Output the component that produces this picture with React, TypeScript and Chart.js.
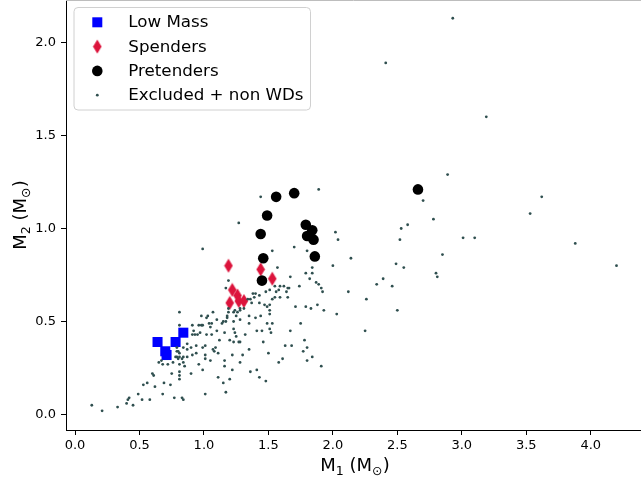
import React, { useEffect, useRef } from 'react';
import { Chart, registerables } from 'chart.js';

Chart.register(...registerables);

// ---------- data ----------
const xTicks = [0, 0.5, 1, 1.5, 2, 2.5, 3, 3.5, 4];
const yTicks = [0, 0.5, 1, 1.5, 2];

const legendLabels = ['Low Mass', 'Spenders', 'Pretenders', 'Excluded + non WDs'];

const lowMassX = [0.64, 0.78, 0.84, 0.70, 0.71];
const lowMassY = [0.39, 0.39, 0.44, 0.34, 0.32];

const spendersX = [1.19, 1.44, 1.53, 1.22, 1.26, 1.20, 1.27, 1.31];
const spendersY = [0.80, 0.78, 0.73, 0.67, 0.64, 0.60, 0.61, 0.61];

const pretendersX = [1.56, 1.70, 1.49, 1.44, 1.79, 1.84, 1.80, 1.85, 1.86, 1.46, 1.45, 2.66];
const pretendersY = [1.17, 1.19, 1.07, 0.97, 1.02, 0.99, 0.96, 0.94, 0.85, 0.84, 0.72, 1.21];

const excludedX = [
  1.89, 1.44, 1.27, 0.99, 2.02, 2.04, 1.53, 1.70, 1.80, 2.14,
  2.00, 1.84, 1.57, 1.79, 1.84, 1.82, 1.67, 1.74, 1.87, 1.89,
  1.91, 1.92, 2.12, 1.55, 1.59, 1.62, 1.65, 1.66, 1.64, 1.58,
  1.56, 1.51, 1.48, 1.43, 1.40, 1.38, 1.39, 1.36, 1.34, 1.31,
  1.28, 1.28, 1.26, 1.24, 1.23, 1.19, 1.19, 1.17, 1.19, 1.18,
  1.37, 1.43, 1.47, 1.51, 1.49, 1.51, 1.53, 1.55, 1.59, 1.65,
  1.71, 1.79, 1.83, 1.88, 1.93, 2.03, 1.51, 1.44, 1.35, 1.40,
  1.35, 1.28, 1.25, 1.23, 1.18, 1.17, 1.15, 1.14, 1.10, 1.07,
  1.03, 1.02, 0.98, 0.98, 0.96, 1.04, 1.06, 1.05, 0.99, 0.95,
  0.91, 0.92, 0.91, 0.81, 0.81, 0.93, 0.97, 1.02, 1.06, 1.10,
  1.16, 1.23, 1.24, 1.25, 1.23, 1.27, 1.28, 1.20, 1.12, 1.09,
  1.07, 1.01, 0.99, 0.94, 0.90, 0.87, 0.87, 0.84, 0.79, 0.79,
  0.80, 0.81, 0.78, 0.79, 0.80, 0.81, 0.83, 0.84, 0.87, 0.91,
  0.94, 0.96, 1.01, 1.01, 1.05, 1.08, 1.11, 1.16, 1.22, 1.30,
  1.35, 1.32, 1.41, 1.45, 1.52, 1.49, 1.51, 1.53, 1.67, 1.75,
  1.78, 1.80, 1.77, 1.80, 1.84, 1.91, 1.68, 1.63, 1.61, 1.58,
  1.50, 1.46, 1.41, 1.36, 1.43, 1.48, 1.28, 1.22, 1.20, 1.16,
  1.11, 1.15, 1.17, 1.01, 0.99, 0.90, 0.85, 0.84, 0.81, 0.76,
  0.72, 0.68, 0.67, 0.65, 0.75, 0.81, 0.81, 0.81, 0.74, 0.69,
  0.61, 0.60, 0.56, 0.53, 0.62, 0.68, 0.58, 0.52, 0.49, 0.45,
  0.42, 0.41, 0.40, 0.33, 0.21, 0.13, 0.77, 0.83, 0.84,
  2.93, 2.41, 3.19, 2.89, 2.70, 3.62, 3.53, 2.78, 2.58, 2.53,
  2.52, 3.01, 3.10, 3.88, 2.85, 2.49, 2.55, 4.20, 2.39, 2.34,
  2.46, 2.80, 2.81, 2.26, 2.25, 2.50,
];
const excludedY = [
  1.21, 1.17, 1.03, 0.89, 0.98, 0.94, 0.88, 0.90, 0.88, 0.84,
  0.80, 0.79, 0.79, 0.76, 0.76, 0.73, 0.74, 0.69, 0.71, 0.70,
  0.68, 0.66, 0.66, 0.69, 0.69, 0.69, 0.68, 0.68, 0.66, 0.67,
  0.66, 0.67, 0.66, 0.64, 0.65, 0.65, 0.63, 0.62, 0.62, 0.57,
  0.57, 0.56, 0.55, 0.56, 0.55, 0.57, 0.72, 0.68, 0.55, 0.52,
  0.60, 0.60, 0.59, 0.59, 0.58, 0.56, 0.62, 0.63, 0.63, 0.63,
  0.58, 0.58, 0.57, 0.59, 0.56, 0.54, 0.54, 0.53, 0.53, 0.52,
  0.49, 0.51, 0.53, 0.50, 0.53, 0.50, 0.50, 0.49, 0.51, 0.55,
  0.53, 0.52, 0.53, 0.48, 0.48, 0.49, 0.49, 0.47, 0.48, 0.43,
  0.48, 0.45, 0.43, 0.55, 0.48, 0.43, 0.44, 0.43, 0.43, 0.45,
  0.44, 0.46, 0.44, 0.42, 0.39, 0.39, 0.39, 0.40, 0.40, 0.36,
  0.35, 0.37, 0.36, 0.37, 0.36, 0.38, 0.35, 0.36, 0.36, 0.34,
  0.34, 0.33, 0.31, 0.31, 0.30, 0.31, 0.30, 0.31, 0.31, 0.32,
  0.33, 0.27, 0.32, 0.30, 0.29, 0.34, 0.33, 0.29, 0.32, 0.32,
  0.35, 0.43, 0.45, 0.45, 0.44, 0.49, 0.46, 0.49, 0.45, 0.49,
  0.40, 0.36, 0.34, 0.29, 0.31, 0.26, 0.37, 0.37, 0.30, 0.28,
  0.33, 0.39, 0.24, 0.23, 0.20, 0.18, 0.28, 0.24, 0.19, 0.26,
  0.20, 0.17, 0.12, 0.11, 0.24, 0.22, 0.26, 0.28, 0.27, 0.28,
  0.27, 0.27, 0.29, 0.28, 0.22, 0.23, 0.21, 0.19, 0.16, 0.17,
  0.21, 0.22, 0.17, 0.16, 0.15, 0.11, 0.08, 0.08, 0.11, 0.05,
  0.09, 0.08, 0.06, 0.04, 0.02, 0.05, 0.09, 0.09, 0.08,
  2.13, 1.89, 1.60, 1.29, 1.15, 1.17, 1.08, 1.05, 1.02, 1.00,
  0.94, 0.95, 0.95, 0.92, 0.86, 0.81, 0.79, 0.80, 0.73, 0.70,
  0.69, 0.76, 0.74, 0.62, 0.45, 0.56,
];

// ---------- styling ----------
const FONT = 'DejaVu Sans';
const BLUE = '#0000ff';
const CRIMSON = '#dc143c';
const BLACK = '#000000';
const SLATE = '#2f4f4f';

const toPoints = (xs: number[], ys: number[]) => xs.map((x, i) => ({ x, y: ys[i] }));

function makeDiamond(): HTMLCanvasElement {
  const c = document.createElement('canvas');
  c.width = 10;
  c.height = 15;
  const g = c.getContext('2d')!;
  g.fillStyle = CRIMSON;
  g.beginPath();
  g.moveTo(5, 0.5);
  g.lineTo(9.3, 7.5);
  g.lineTo(5, 14.5);
  g.lineTo(0.7, 7.5);
  g.closePath();
  g.fill();
  return c;
}

type Part = { t: string; sub?: boolean };

function drawRich(ctx: CanvasRenderingContext2D, parts: Part[], cx: number, baseline: number, size: number) {
  const subSize = size * 0.7;
  const widths = parts.map((p) => {
    ctx.font = `${p.sub ? subSize : size}px "${FONT}"`;
    return ctx.measureText(p.t).width;
  });
  const total = widths.reduce((a, b) => a + b, 0);
  let x = cx - total / 2;
  ctx.textAlign = 'left';
  ctx.textBaseline = 'alphabetic';
  parts.forEach((p, i) => {
    ctx.font = `${p.sub ? subSize : size}px "${FONT}"`;
    ctx.fillText(p.t, x, baseline + (p.sub ? size * 0.22 : 0));
    x += widths[i];
  });
}

const xTitle: Part[] = [{ t: 'M' }, { t: '1', sub: true }, { t: ' (M' }, { t: '⊙', sub: true }, { t: ')' }];
const yTitle: Part[] = [{ t: 'M' }, { t: '2', sub: true }, { t: ' (M' }, { t: '⊙', sub: true }, { t: ')' }];

const zeroPad = (s: any) => {
  s.paddingTop = 0;
  s.paddingBottom = 0;
  s.paddingLeft = 0;
  s.paddingRight = 0;
};

export default function App() {
  const ref = useRef<HTMLCanvasElement>(null);

  useEffect(() => {
    if (!ref.current) return;
    const diamond = makeDiamond();

    const overlay = {
      id: 'overlay',
      afterDraw(chart: any) {
        const ctx: CanvasRenderingContext2D = chart.ctx;
        const a = chart.chartArea;
        ctx.save();
        // top spine (mostly off-canvas)
        ctx.strokeStyle = '#bdbdbd';
        ctx.lineWidth = 1;
        ctx.beginPath();
        ctx.moveTo(a.left, 0.5);
        ctx.lineTo(a.right, 0.5);
        ctx.stroke();

        // axis titles
        ctx.fillStyle = BLACK;
        drawRich(ctx, xTitle, 355, 471, 18);
        ctx.save();
        ctx.translate(26, 215);
        ctx.rotate(-Math.PI / 2);
        drawRich(ctx, yTitle, 0, 0, 18);
        ctx.restore();

        // legend box
        const bx = 74, by = 7.5, bw = 236.5, bh = 102.5, r = 4;
        ctx.beginPath();
        ctx.moveTo(bx + r, by);
        ctx.lineTo(bx + bw - r, by);
        ctx.quadraticCurveTo(bx + bw, by, bx + bw, by + r);
        ctx.lineTo(bx + bw, by + bh - r);
        ctx.quadraticCurveTo(bx + bw, by + bh, bx + bw - r, by + bh);
        ctx.lineTo(bx + r, by + bh);
        ctx.quadraticCurveTo(bx, by + bh, bx, by + bh - r);
        ctx.lineTo(bx, by + r);
        ctx.quadraticCurveTo(bx, by, bx + r, by);
        ctx.closePath();
        ctx.fillStyle = 'rgba(255,255,255,0.8)';
        ctx.fill();
        ctx.strokeStyle = '#d0d0d0';
        ctx.stroke();

        const baselines = [27.3, 51.6, 75.9, 100.2];
        const mx = 97.3;
        // markers
        const m0 = baselines[0] - 5;
        ctx.fillStyle = BLUE;
        ctx.fillRect(mx - 5, m0 - 5, 10, 10);
        const m1 = baselines[1] - 5;
        ctx.drawImage(diamond, mx - 5, m1 - 7.5);
        const m2 = baselines[2] - 5;
        ctx.fillStyle = BLACK;
        ctx.beginPath();
        ctx.arc(mx, m2, 5.3, 0, Math.PI * 2);
        ctx.fill();
        const m3 = baselines[3] - 5;
        ctx.fillStyle = SLATE;
        ctx.beginPath();
        ctx.arc(mx, m3, 1.4, 0, Math.PI * 2);
        ctx.fill();

        // labels
        ctx.fillStyle = BLACK;
        ctx.font = `16.7px "${FONT}"`;
        ctx.textAlign = 'left';
        ctx.textBaseline = 'alphabetic';
        legendLabels.forEach((s, i) => ctx.fillText(s, 128.3, baselines[i]));
        ctx.restore();
      },
    };

    const tickFont = { family: FONT, size: 13 };
    const chart = new Chart(ref.current, {
      type: 'scatter',
      data: {
        datasets: [
          {
            label: legendLabels[0],
            data: toPoints(lowMassX, lowMassY),
            pointStyle: 'rect',
            pointRadius: 7.1,
            backgroundColor: BLUE,
            borderColor: BLUE,
            borderWidth: 0,
            order: 3,
          },
          {
            label: legendLabels[1],
            data: toPoints(spendersX, spendersY),
            pointStyle: diamond as any,
            pointRadius: 7,
            backgroundColor: CRIMSON,
            borderWidth: 0,
            order: 2,
          },
          {
            label: legendLabels[2],
            data: toPoints(pretendersX, pretendersY),
            pointStyle: 'circle',
            pointRadius: 5.3,
            backgroundColor: BLACK,
            borderColor: BLACK,
            borderWidth: 0,
            order: 1,
          },
          {
            label: legendLabels[3],
            data: toPoints(excludedX, excludedY),
            pointStyle: 'circle',
            pointRadius: 1.4,
            backgroundColor: SLATE,
            borderColor: SLATE,
            borderWidth: 0,
            order: 0,
          },
        ],
      },
      options: {
        animation: false,
        responsive: false,
        devicePixelRatio: 1,
        layout: { padding: 0, autoPadding: false },
        plugins: {
          legend: { display: false },
          tooltip: { enabled: false },
          title: { display: false },
        },
        scales: {
          x: {
            type: 'linear',
            min: -0.07,
            max: 4.39,
            afterBuildTicks: (s: any) => {
              s.ticks = xTicks.map((v) => ({ value: v }));
            },
            afterFit: (s: any) => {
              s.height = 50;
              zeroPad(s);
            },
            grid: { drawOnChartArea: false, drawTicks: true, tickLength: 5, color: BLACK },
            border: { display: true, color: BLACK, width: 1 },
            ticks: {
              color: BLACK,
              font: tickFont,
              padding: 3,
              maxRotation: 0,
              autoSkip: false,
              callback: (v: any) => Number(v).toFixed(1),
            },
          },
          y: {
            type: 'linear',
            min: -0.083,
            max: 2.228,
            afterBuildTicks: (s: any) => {
              s.ticks = yTicks.map((v) => ({ value: v }));
            },
            afterFit: (s: any) => {
              s.width = 66;
              zeroPad(s);
            },
            grid: { drawOnChartArea: false, drawTicks: true, tickLength: 5, color: BLACK },
            border: { display: true, color: BLACK, width: 1 },
            ticks: {
              color: BLACK,
              font: tickFont,
              padding: 5,
              autoSkip: false,
              callback: (v: any) => Number(v).toFixed(1),
            },
          },
        },
      },
      plugins: [overlay],
    });

    return () => chart.destroy();
  }, []);

  return (
    <div style={{ position: 'fixed', left: 0, top: 0, width: 641, height: 480, background: '#fff' }}>
      <canvas ref={ref} width={641} height={480} style={{ display: 'block' }} />
    </div>
  );
}
